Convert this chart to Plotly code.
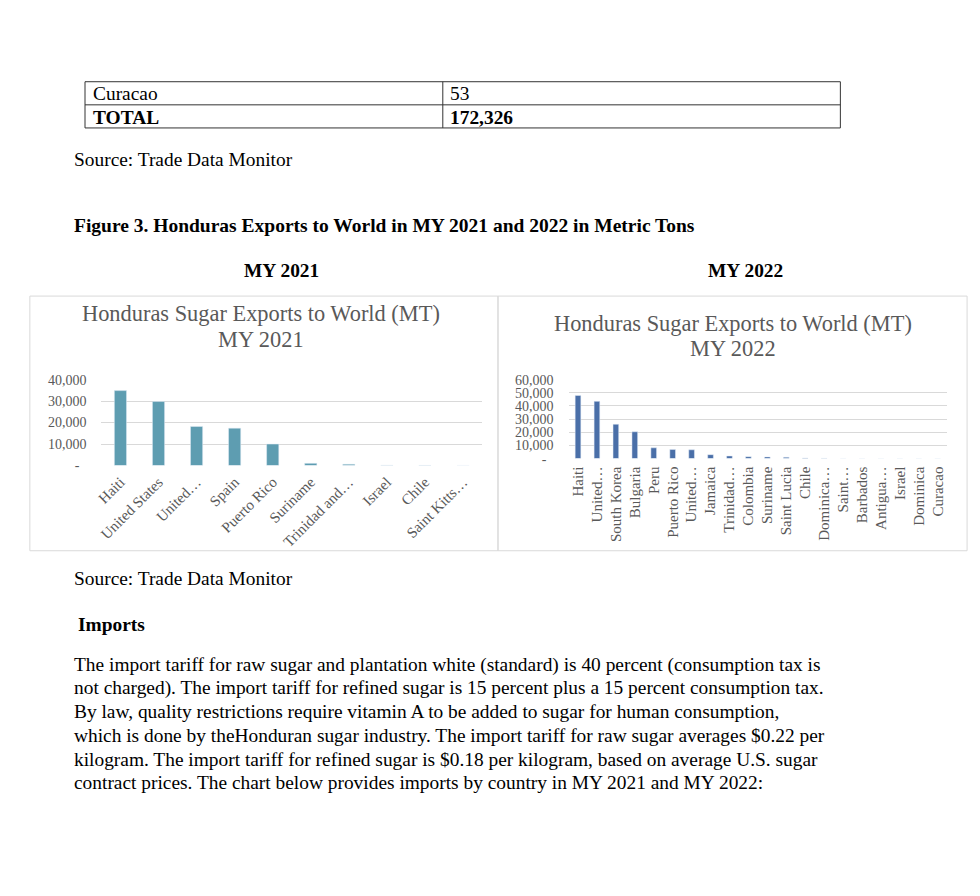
import plotly.graph_objects as go

W, H = 980, 896

# ---- data ----
cats_2021 = ["Haiti", "United States", "United…", "Spain", "Puerto Rico", "Suriname",
             "Trinidad and…", "Israel", "Chile", "Saint Kitts…"]
vals_2021 = [34900, 29800, 18200, 17400, 10000, 1000, 600, 120, 60, 40]

cats_2022 = ["Haiti", "United…", "South Korea", "Bulgaria", "Peru", "Puerto Rico", "United…",
             "Jamaica", "Trinidad…", "Colombia", "Suriname", "Saint Lucia", "Chile", "Dominica…",
             "Saint…", "Barbados", "Antigua…", "Israel", "Dominica", "Curacao"]
vals_2022 = [48000, 43500, 26100, 20400, 8200, 6900, 6700, 3000, 2000, 1500, 1300, 1000,
             500, 200, 150, 110, 80, 60, 55, 53]

yticks_2021 = [0, 10000, 20000, 30000, 40000]
yticks_2022 = [0, 10000, 20000, 30000, 40000, 50000, 60000]

table_rows = [("Curacao", "53", False), ("TOTAL", "172,326", True)]
paragraph = [
    "The import tariff for raw sugar and plantation white (standard) is 40 percent (consumption tax is",
    "not charged). The import tariff for refined sugar is 15 percent plus a 15 percent consumption tax.",
    "By law, quality restrictions require vitamin A to be added to sugar for human consumption,",
    "which is done by theHonduran sugar industry. The import tariff for raw sugar averages $0.22 per",
    "kilogram. The import tariff for refined sugar is $0.18 per kilogram, based on average U.S. sugar",
    "contract prices. The chart below provides imports by country in MY 2021 and MY 2022:",
]

SERIF = "Liberation Serif, Times New Roman, serif"
GREY = "#595959"


def px(x):
    return x / W


def py(y):
    return 1 - y / H


def tick_text(v):
    return "-\u00a0\u00a0" if v == 0 else f"{v:,}"


fig = go.Figure()
fig.add_trace(go.Bar(x=list(range(len(cats_2021))), y=vals_2021, marker_color="#5e9db1",
                     width=0.32, xaxis="x", yaxis="y", hoverinfo="skip"))
fig.add_trace(go.Bar(x=list(range(len(cats_2022))), y=vals_2022, marker_color="#4a6fa8",
                     width=0.3, xaxis="x2", yaxis="y2", hoverinfo="skip"))

common_y = dict(showgrid=True, gridcolor="#d9d9d9", gridwidth=1, zeroline=False, showline=False,
                tickfont=dict(family=SERIF, size=14, color=GREY), ticklabelstandoff=14,
                fixedrange=True)
common_x = dict(showgrid=False, zeroline=False, showline=False, fixedrange=True,
                tickfont=dict(family=SERIF, size=15, color=GREY))

fig.update_layout(
    width=W, height=H, margin=dict(l=0, r=0, t=0, b=0),
    paper_bgcolor="white", plot_bgcolor="white", showlegend=False,
    xaxis=dict(domain=[px(96), px(479)], range=[-0.5, len(cats_2021) - 0.5],
               tickmode="array", tickvals=list(range(len(cats_2021))), ticktext=cats_2021,
               tickangle=-45, anchor="y", ticklabelstandoff=4, **common_x),
    yaxis=dict(domain=[py(466.3), py(379)], range=[0, 40000], tickmode="array",
               tickvals=yticks_2021, ticktext=[tick_text(v) for v in yticks_2021],
               anchor="x", **common_y),
    xaxis2=dict(domain=[px(566), px(947)], range=[-0.5, len(cats_2022) - 0.5],
                tickmode="array", tickvals=list(range(len(cats_2022))), ticktext=cats_2022,
                tickangle=-90, anchor="y2", ticklabelstandoff=4, **common_x),
    yaxis2=dict(domain=[py(459.3), py(379)], range=[0, 60000], tickmode="array",
                tickvals=yticks_2022, ticktext=[tick_text(v) for v in yticks_2022],
                anchor="x2", **common_y),
)

shapes = []
# table
shapes.append(dict(type="rect", xref="paper", yref="paper", x0=px(79.5), x1=px(839.5),
                   y0=py(123), y1=py(76), line=dict(color="#333333", width=1)))
shapes.append(dict(type="line", xref="paper", yref="paper", x0=px(79.5), x1=px(839.5),
                   y0=py(99.5), y1=py(99.5), line=dict(color="#333333", width=1)))
shapes.append(dict(type="line", xref="paper", yref="paper", x0=px(439.5), x1=px(439.5),
                   y0=py(123), y1=py(76), line=dict(color="#333333", width=1)))
# chart boxes
shapes.append(dict(type="rect", xref="paper", yref="paper", x0=px(24), x1=px(495),
                   y0=py(553), y1=py(294), line=dict(color="#d9d9d9", width=1), layer="below"))
shapes.append(dict(type="rect", xref="paper", yref="paper", x0=px(495), x1=px(967),
                   y0=py(553), y1=py(294), line=dict(color="#d9d9d9", width=1), layer="below"))
fig.update_layout(shapes=shapes)

ann = []


def text(s, x, y, size=19.4, bold=False, anchor="left", color="black"):
    t = f"<b>{s}</b>" if bold else s
    ann.append(dict(text=t, x=px(x), y=py(y), xref="paper", yref="paper", showarrow=False,
                    xanchor=anchor, yanchor="middle",
                    font=dict(family=SERIF, size=size, color=color)))


for i, (a, b, bold) in enumerate(table_rows):
    yc = 88 + i * 24
    text(a, 86, yc, bold=bold)
    text(b, 445, yc, bold=bold)

text("Source: Trade Data Monitor", 66, 155)
text("Figure 3. Honduras Exports to World in MY 2021 and 2022 in Metric Tons", 66, 222,
     size=19.5, bold=True)
text("MY 2021", 277, 268, bold=True, anchor="center")
text("MY 2022", 744, 268, bold=True, anchor="center")

text("Honduras Sugar Exports to World (MT)", 256.5, 312, size=22.4, anchor="center", color=GREY)
text("MY 2021", 256.5, 338, size=22.4, anchor="center", color=GREY)
text("Honduras Sugar Exports to World (MT)", 731.5, 322, size=22.4, anchor="center", color=GREY)
text("MY 2022", 731.5, 347, size=22.4, anchor="center", color=GREY)

text("Source: Trade Data Monitor", 66, 581)
text("Imports", 70, 628, bold=True)
for i, line in enumerate(paragraph):
    text(line, 66, 669 + i * 24)

fig.update_layout(annotations=ann)
fig.write_html("out.html")
